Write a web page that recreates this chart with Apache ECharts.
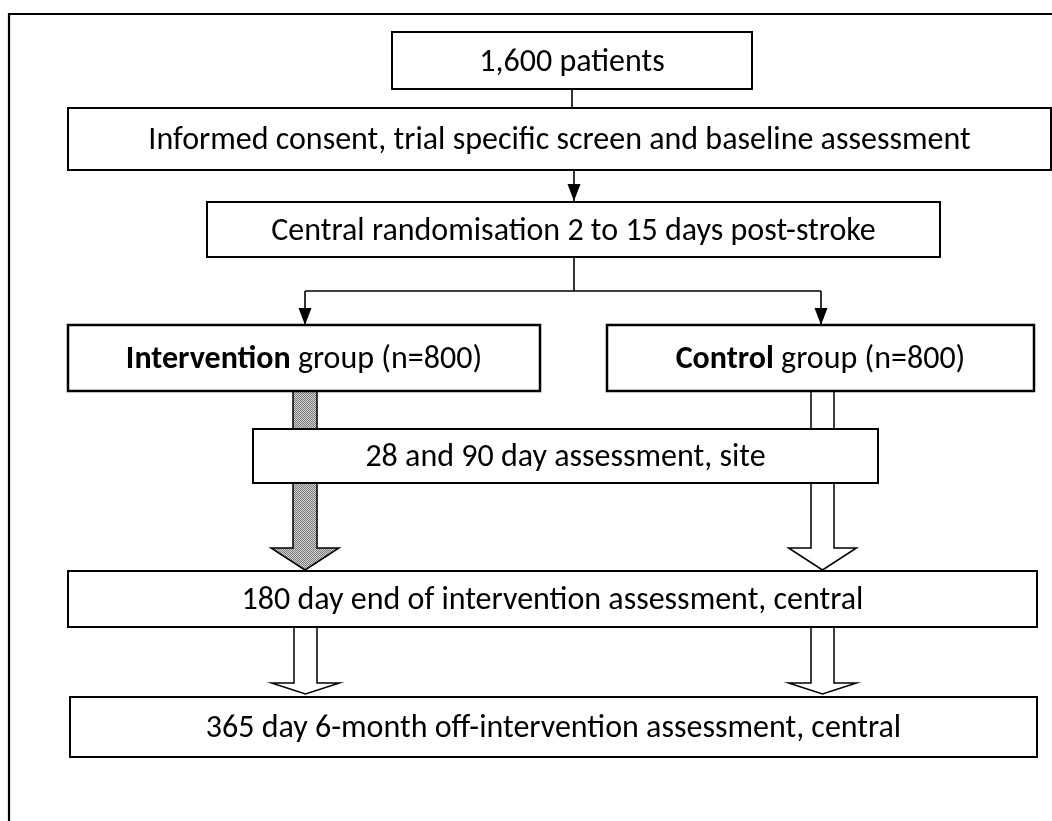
<!DOCTYPE html>
<html><head><meta charset="utf-8">
<script src="https://cdn.jsdelivr.net/npm/echarts@6/dist/echarts.min.js"></script>
<style>html,body{margin:0;padding:0;background:#fff}#c{width:1052px;height:821px}</style>
</head><body><div id="c"></div>
<script>
// ---- data ----
const totalPatients = '1,600';
const armNames = ['Intervention', 'Control'];
const armSizes = [800, 800];
const stepLabels = [
  totalPatients + ' patients',
  'Informed consent, trial specific screen and baseline assessment',
  'Central randomisation 2 to 15 days post-stroke',
  '{b|' + armNames[0] + '} group (n=' + armSizes[0] + ')',
  '{b|' + armNames[1] + '} group (n=' + armSizes[1] + ')',
  '28 and 90 day assessment, site',
  '180 day end of intervention assessment, central',
  '365 day 6-month off-intervention assessment, central'
];

// ---- layout (chart units = pixels) ----
const boxRects = [
  [392, 32, 752, 89],
  [68, 108, 1051, 170],
  [207, 202, 940, 257],
  [68, 325, 540, 391],
  [607, 325, 1034, 391],
  [253, 429, 878, 483],
  [68, 571, 1037, 627],
  [70, 697, 1037, 757]
];
const boxLineWidths = [2, 2, 2, 2.5, 2.5, 2, 2, 2];
// thin connectors: [points], arrowhead at end?
const connectors = [
  {pts: [[572, 89], [572, 108]], head: false},
  {pts: [[574, 170], [574, 201]], head: true},
  {pts: [[574, 257], [574, 291]], head: false},
  {pts: [[305, 291], [821, 291]], head: false},
  {pts: [[305, 291], [305, 325]], head: true},
  {pts: [[821, 291], [821, 325]], head: true}
];
// block arrows: [cx, yStart, yHeadTop, yTip, shaftHalf, headHalf, patterned]
const blockArrows = [
  [305, 391, 548, 570, 12, 34, true],
  [822.5, 391, 548, 570, 11.5, 34, false],
  [305.5, 627, 683, 694, 11.5, 34, false],
  [822.5, 627, 683, 694, 11.5, 34, false]
];

const FONT = 'Carlito, Lato, sans-serif';
// calibrate font size so the widest label matches the reference width (~822px)
const mc = document.createElement('canvas').getContext('2d');
mc.font = '100px ' + FONT;
const w100 = mc.measureText(stepLabels[1]).width;
const FS = Math.round(100 * 822 / w100 * 10) / 10;

// dotted pattern for the intervention arrow
const pc = document.createElement('canvas');
pc.width = 2; pc.height = 2;
const pctx = pc.getContext('2d');
pctx.fillStyle = '#d2d2d2'; pctx.fillRect(0, 0, 2, 2);
pctx.fillStyle = '#7a7a7a'; pctx.fillRect(0, 0, 1, 1); pctx.fillRect(1, 1, 1, 1);
const pattern = {image: pc, repeat: 'repeat'};

const chart = echarts.init(document.getElementById('c'), null, {renderer: 'canvas'});

function pt(api, p) { return api.coord(p); }

const option = {
  animation: false,
  backgroundColor: '#fff',
  grid: {left: 0, right: 0, top: 0, bottom: 0},
  xAxis: {type: 'value', min: 0, max: 1052, show: false},
  yAxis: {type: 'value', min: 0, max: 821, inverse: true, show: false},
  series: [
    // outer frame
    {
      type: 'custom', coordinateSystem: 'cartesian2d', clip: false, z: 1,
      data: [[0]],
      renderItem: function (params, api) {
        return {
          type: 'polyline',
          shape: {points: [pt(api, [9, 830]), pt(api, [9, 14]), pt(api, [1070, 14])]},
          style: {stroke: '#000', lineWidth: 2.2, fill: null}
        };
      }
    },
    // thin connectors
    {
      type: 'custom', coordinateSystem: 'cartesian2d', clip: false, z: 2,
      data: connectors.map((c, i) => [i]),
      renderItem: function (params, api) {
        const c = connectors[params.dataIndex];
        const p = c.pts.map(q => pt(api, q));
        const children = [{
          type: 'polyline', shape: {points: p},
          style: {stroke: '#000', lineWidth: 1.6, fill: null}
        }];
        if (c.head) {
          const e = p[p.length - 1];
          children.push({
            type: 'polygon',
            shape: {points: [[e[0] - 6.5, e[1] - 17], [e[0] + 6.5, e[1] - 17], [e[0], e[1]]]},
            style: {fill: '#000'}
          });
        }
        return {type: 'group', children: children};
      }
    },
    // block arrows
    {
      type: 'custom', coordinateSystem: 'cartesian2d', clip: false, z: 3,
      data: blockArrows.map((a, i) => [i]),
      renderItem: function (params, api) {
        const a = blockArrows[params.dataIndex];
        const cx = a[0], y0 = a[1], yh = a[2], yt = a[3], sh = a[4], hh = a[5];
        const pts = [
          [cx - sh, y0], [cx - sh, yh], [cx - hh, yh], [cx, yt],
          [cx + hh, yh], [cx + sh, yh], [cx + sh, y0]
        ].map(q => pt(api, q));
        return {
          type: 'polygon', shape: {points: pts},
          style: {fill: a[6] ? pattern : '#fff', stroke: '#000', lineWidth: 1.5, lineJoin: 'miter'}
        };
      }
    },
    // boxes with labels
    {
      type: 'custom', coordinateSystem: 'cartesian2d', clip: false, z: 4,
      data: stepLabels.map((s, i) => [i]),
      renderItem: function (params, api) {
        const i = params.dataIndex;
        const r = boxRects[i];
        const p0 = pt(api, [r[0], r[1]]), p1 = pt(api, [r[2], r[3]]);
        return {
          type: 'group',
          children: [
            {
              type: 'rect',
              shape: {x: p0[0], y: p0[1], width: p1[0] - p0[0], height: p1[1] - p0[1]},
              style: {fill: '#fff', stroke: '#000', lineWidth: boxLineWidths[i]}
            },
            {
              type: 'text',
              style: {
                text: stepLabels[i],
                x: (p0[0] + p1[0]) / 2,
                y: (p0[1] + p1[1]) / 2 + 2,
                align: 'center', verticalAlign: 'middle',
                fill: '#000', fontFamily: FONT, fontSize: FS,
                rich: {b: {fontWeight: 'bold', fontFamily: FONT, fontSize: FS, fill: '#000'}}
              }
            }
          ]
        };
      }
    }
  ]
};
chart.setOption(option);
</script>
</body></html>
